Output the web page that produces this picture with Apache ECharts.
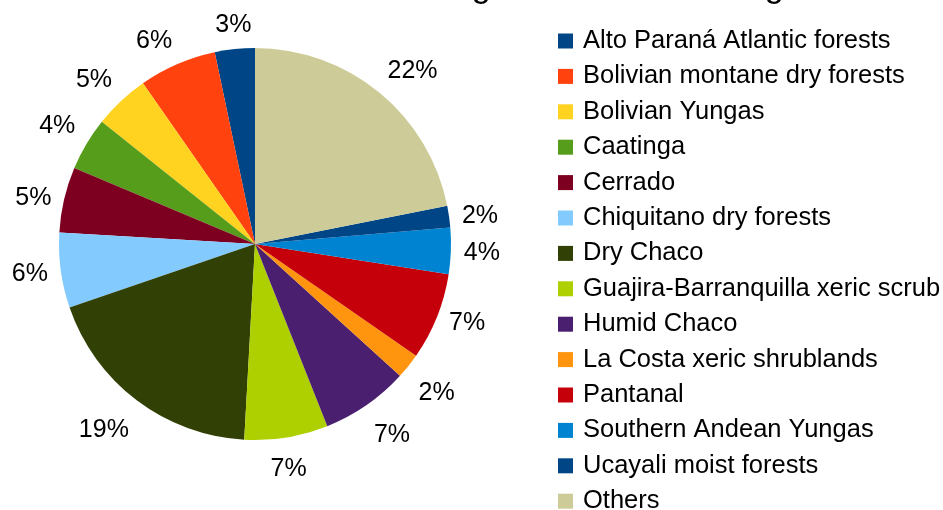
<!DOCTYPE html>
<html>
<head>
<meta charset="utf-8">
<script src="https://cdn.jsdelivr.net/npm/echarts@6/dist/echarts.min.js"></script>
<style>
  html, body { margin: 0; padding: 0; background: #ffffff; }
  #chart { width: 943px; height: 510px; }
</style>
</head>
<body>
<div id="chart"></div>
<script>
// Ecoregion shares (percent of total), in legend order
const ecoregions = [
  'Alto Paraná Atlantic forests',
  'Bolivian montane dry forests',
  'Bolivian Yungas',
  'Caatinga',
  'Cerrado',
  'Chiquitano dry forests',
  'Dry Chaco',
  'Guajira-Barranquilla xeric scrub',
  'Humid Chaco',
  'La Costa xeric shrublands',
  'Pantanal',
  'Southern Andean Yungas',
  'Ucayali moist forests',
  'Others'
];
const shares = [3.3, 6.4, 4.6, 4.4, 5.4, 6.2, 18.9, 6.9, 7.25, 2.1, 7.2, 3.8, 1.8, 21.9];
const sliceColors = [
  '#004586', '#ff420e', '#ffd320', '#579d1c', '#7e0021', '#83caff', '#314004',
  '#aecf00', '#4b1f6f', '#ff950e', '#c5000b', '#0084d1', '#004586', '#cdcc98'
];

const FONT = '"Liberation Sans", Arial, sans-serif';
const CX = 255, CY = 244, R = 196;
const LABEL_R = 209;
const BELOW_EXTRA = 5;

// Mid angle of each slice, counter-clockwise from 12 o'clock
const total = shares.reduce((a, b) => a + b, 0);
let acc = 0;
const midAngles = shares.map(v => {
  const a = (acc + v / 2) / total * Math.PI * 2;
  acc += v;
  return a;
});

// Label alignment by 45-degree sector: centred on an axis near it, cornered otherwise
const SECTOR = Math.sin(Math.PI / 8);
const side = v => (Math.abs(v) < SECTOR ? 0 : Math.sign(v));

const chart = echarts.init(document.getElementById('chart'), null, { renderer: 'canvas' });

chart.setOption({
  animation: false,
  backgroundColor: '#ffffff',
  color: sliceColors,
  title: {
    text: 'Ecoregions within the range',
    left: 378,
    top: -34,
    textStyle: { fontFamily: FONT, fontSize: 34, fontWeight: 'normal', color: '#000' }
  },
  legend: {
    orient: 'vertical',
    left: 558,
    top: 28,
    height: 600,
    padding: 0,
    icon: 'rect',
    itemWidth: 15,
    itemHeight: 15,
    itemGap: 9.4,
    textStyle: { fontFamily: FONT, fontSize: 25.5, lineHeight: 26, color: '#000', padding: [0, 0, 0, 5] },
    data: ecoregions
  },
  series: [{
    type: 'pie',
    center: [CX, CY],
    radius: R,
    startAngle: 90,
    clockwise: false,
    avoidLabelOverlap: false,
    itemStyle: { borderWidth: 0 },
    label: {
      show: true,
      position: 'outside',
      fontFamily: FONT,
      fontSize: 25,
      color: '#000',
      formatter: p => Math.round(p.percent) + '%'
    },
    labelLine: { show: false },
    labelLayout: params => {
      const a = midAngles[params.dataIndex];
      const ux = -Math.sin(a), uy = -Math.cos(a);
      const w = params.labelRect.width, h = params.labelRect.height;
      const sy = side(uy);
      return {
        x: CX + LABEL_R * ux + side(ux) * w / 2,
        y: CY + LABEL_R * uy + sy * h / 2 + 1.5 + (sy > 0 ? BELOW_EXTRA : 0),
        align: 'center',
        verticalAlign: 'middle'
      };
    },
    emphasis: { disabled: true },
    data: ecoregions.map((name, i) => ({ name, value: shares[i] }))
  }]
});
</script>
</body>
</html>
